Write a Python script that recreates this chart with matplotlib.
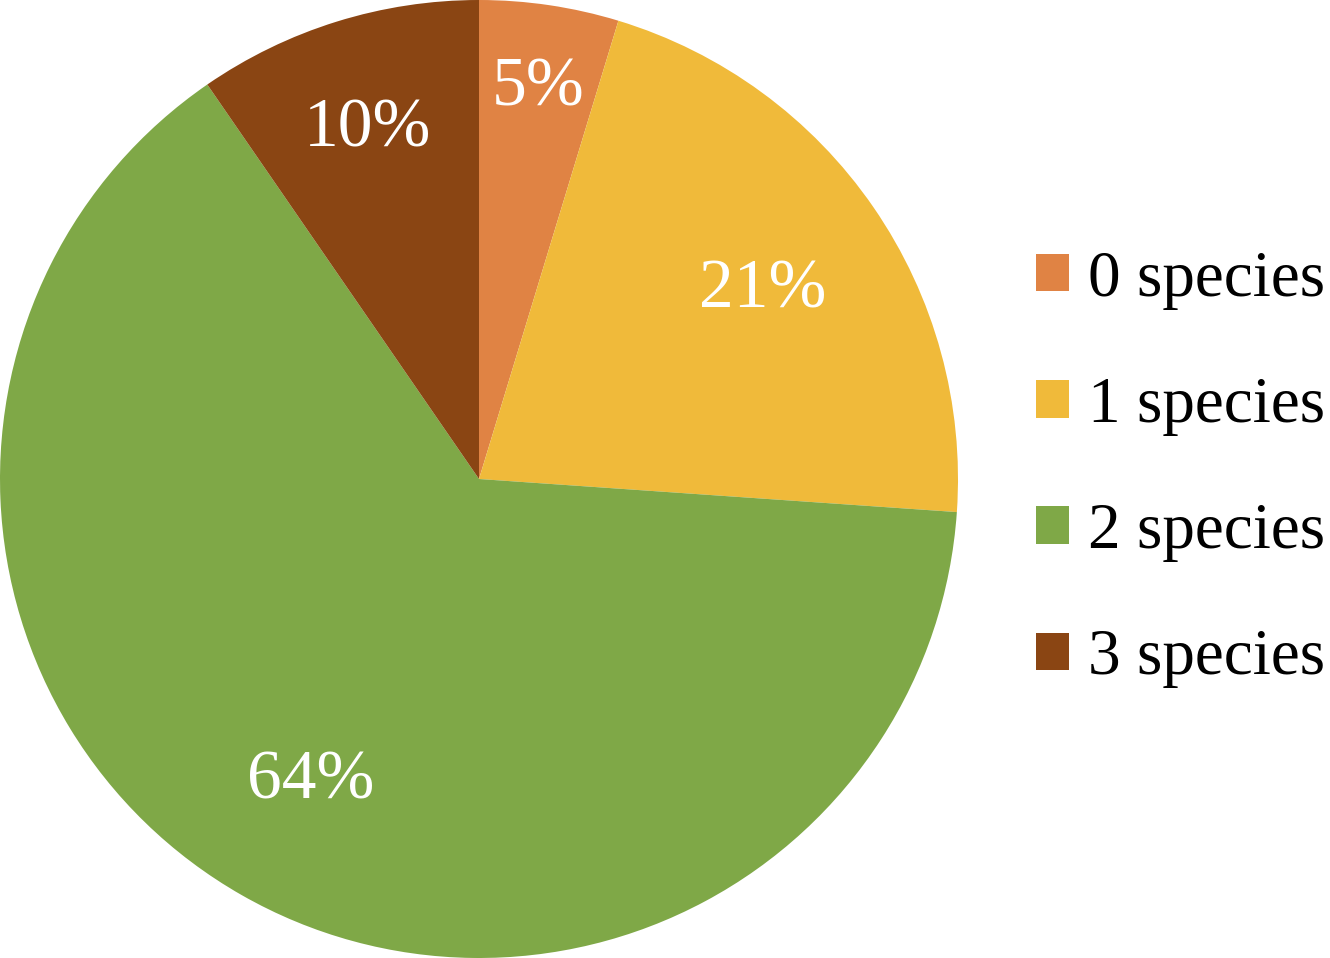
import numpy as np
import matplotlib
matplotlib.use('Agg')
import matplotlib.pyplot as plt
from matplotlib.patches import Patch

plt.rcParams['font.family'] = ['Liberation Serif', 'DejaVu Serif']

# data
categories = ['0 species', '1 species', '2 species', '3 species']
shares = [4.7, 21.4, 64.3, 9.6]
colors = ['#E08344', '#F0BA3A', '#7FA847', '#8A4513']
label_radius = [0.84, 0.72, 0.71, 0.78]

fig = plt.figure(figsize=(13.3, 9.58), dpi=100)
ax = fig.add_axes([0, 0, 958 / 1330, 1])

wedges, texts, autotexts = ax.pie(
    shares, colors=colors, startangle=90, counterclock=False,
    autopct='%.0f%%', radius=1,
    textprops={'color': 'white', 'fontsize': 50},
    wedgeprops={'linewidth': 0})

# push labels to roughly where the original has them
for w, t, r in zip(wedges, autotexts, label_radius):
    ang = np.deg2rad((w.theta1 + w.theta2) / 2)
    t.set_position((r * np.cos(ang), r * np.sin(ang)))
    t.set_va('center_baseline')

ax.set_xlim(-1, 1)
ax.set_ylim(-1, 1)
ax.set_aspect('equal')

handles = [Patch(facecolor=c, edgecolor='none') for c in colors]
fig.legend(handles, categories, loc='center left',
           bbox_to_anchor=(1036 / 1330, 0.51), frameon=False,
           fontsize=47, handlelength=0.5, handleheight=0.5,
           handletextpad=0.3, labelspacing=1.02, borderpad=0,
           borderaxespad=0)

fig.savefig('out.png', dpi=100)
